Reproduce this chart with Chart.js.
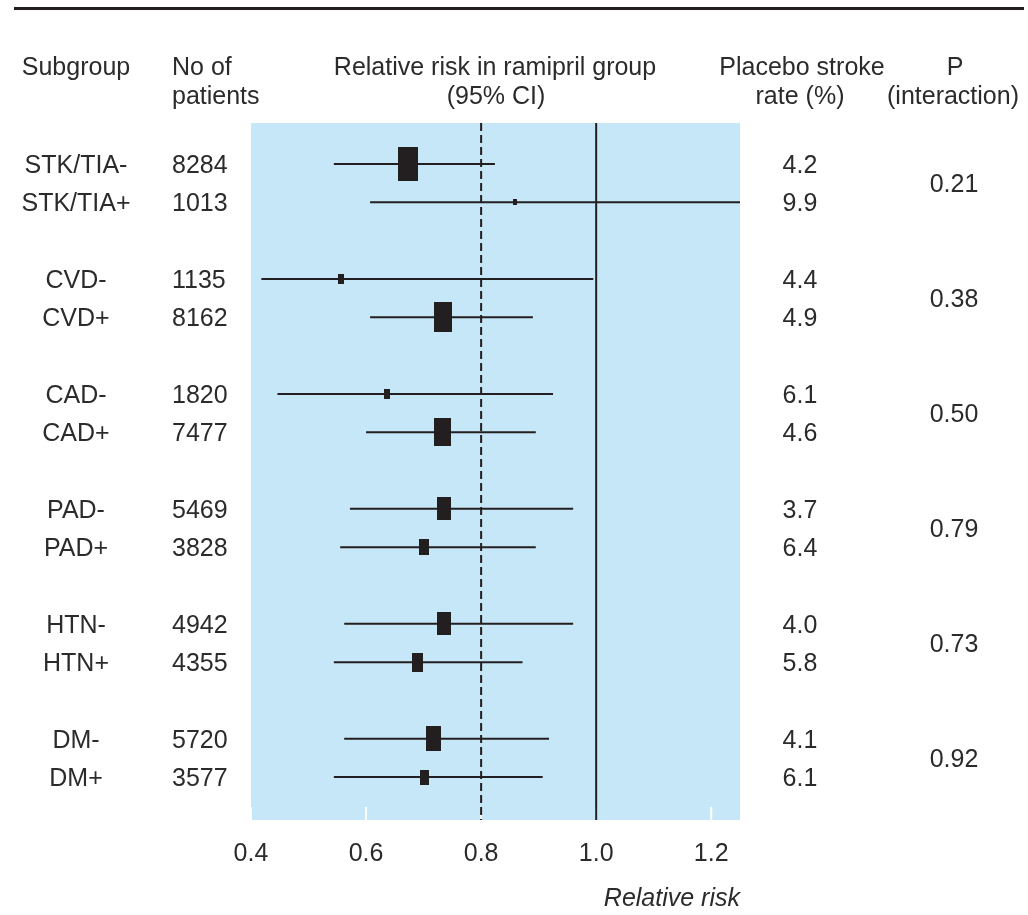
<!DOCTYPE html>
<html>
<head>
<meta charset="utf-8">
<title>Relative risk of stroke in ramipril group by subgroup</title>
<script src="https://cdn.jsdelivr.net/npm/chart.js@4.4.1/dist/chart.umd.min.js"></script>
<style>
  html, body { margin: 0; padding: 0; background: #fff; }
  #wrap { position: relative; width: 1028px; height: 915px; }
</style>
</head>
<body>
<div id="wrap"><canvas id="chart"></canvas></div>
<script>
'use strict';

// data
var subgroups = ['STK/TIA-', 'STK/TIA+', 'CVD-', 'CVD+', 'CAD-', 'CAD+', 'PAD-', 'PAD+', 'HTN-', 'HTN+', 'DM-', 'DM+'];
var patients = [8284, 1013, 1135, 8162, 1820, 7477, 5469, 3828, 4942, 4355, 5720, 3577];
var relRisk = [0.673, 0.859, 0.556, 0.734, 0.637, 0.733, 0.735, 0.700, 0.735, 0.690, 0.718, 0.701];
var ciLow = [0.544, 0.607, 0.418, 0.607, 0.446, 0.600, 0.572, 0.555, 0.562, 0.544, 0.562, 0.544];
var ciHigh = [0.824, 1.38, 0.995, 0.890, 0.925, 0.895, 0.960, 0.895, 0.960, 0.872, 0.918, 0.907];
var weights = [68, 2, 5.6, 53, 6.4, 46, 31, 16, 31, 21, 37.5, 14.4];  // relative box areas
var strokeRate = ['4.2', '9.9', '4.4', '4.9', '6.1', '4.6', '3.7', '6.4', '4.0', '5.8', '4.1', '6.1'];
var pInteraction = ['0.21', '0.38', '0.50', '0.79', '0.73', '0.92'];
var xTicks = [0.4, 0.6, 0.8, 1.0, 1.2];
var overallRisk = 0.8;
var noEffect = 1.0;

var family = '"Liberation Sans", Arial, sans-serif';
var ink = '#231f20';
var textColor = '#2b2b2b';
var panelBlue = '#c6e7f8';
var yMin = -1.07, yMax = 17.12;

// two rows per subgroup pair, one blank row between pairs
function rowOf(i) {
  return Math.floor(i / 2) * 3 + (i % 2);
}

// filled rectangle used as point style, area proportional to weight
function makeBox(weight) {
  var h = Math.sqrt(weight * 10 / 0.6);
  var w = Math.max(4, h * 0.6);
  var c = document.createElement('canvas');
  c.width = Math.round(w);
  c.height = Math.max(5, Math.round(h));
  var g = c.getContext('2d');
  g.fillStyle = ink;
  g.fillRect(0, 0, c.width, c.height);
  return c;
}
var boxes = weights.map(makeBox);

var datasets = [];
subgroups.forEach(function(name, i) {
  datasets.push({
    label: name,
    data: [{ x: ciLow[i], y: rowOf(i) }, { x: ciHigh[i], y: rowOf(i) }],
    showLine: true,
    borderColor: ink,
    borderWidth: 2,
    pointRadius: 0
  });
});
datasets.push({
  label: 'no effect',
  data: [{ x: noEffect, y: yMin }, { x: noEffect, y: yMax }],
  showLine: true, borderColor: ink, borderWidth: 2, pointRadius: 0
});
datasets.push({
  label: 'overall',
  data: [{ x: overallRisk, y: yMin }, { x: overallRisk, y: yMax }],
  showLine: true, borderColor: ink, borderWidth: 2, borderDash: [8, 4], pointRadius: 0
});
datasets.push({
  label: 'relative risk',
  data: relRisk.map(function(v, i) { return { x: v, y: rowOf(i) }; }),
  pointStyle: function(c) { return boxes[c.dataIndex]; },
  pointRadius: 3,
  pointHoverRadius: 3
});

var panelPlugin = {
  id: 'panel',
  beforeDatasetsDraw: function(chart) {
    var a = chart.chartArea, ctx = chart.ctx, x = chart.scales.x;
    ctx.save();
    ctx.fillStyle = panelBlue;
    ctx.fillRect(a.left, a.top, a.right - a.left, a.bottom - a.top);
    // small white tick marks standing on the bottom edge
    ctx.strokeStyle = '#fff';
    ctx.lineWidth = 2;
    xTicks.forEach(function(v) {
      var px = x.getPixelForValue(v);
      ctx.beginPath();
      ctx.moveTo(px, a.bottom);
      ctx.lineTo(px, a.bottom - 13);
      ctx.stroke();
    });
    ctx.restore();
  }
};

var textPlugin = {
  id: 'forestText',
  afterDraw: function(chart) {
    var ctx = chart.ctx, y = chart.scales.y;
    ctx.save();
    ctx.fillStyle = ink;
    ctx.fillRect(14, 7, 1010, 3);

    ctx.fillStyle = textColor;
    ctx.font = '25px ' + family;
    ctx.textBaseline = 'alphabetic';

    // column headers
    ctx.textAlign = 'center';
    ctx.fillText('Subgroup', 76, 75);
    ctx.fillText('Relative risk in ramipril group', 495, 75);
    ctx.fillText('(95% CI)', 496, 104);
    ctx.fillText('Placebo stroke', 802, 75);
    ctx.fillText('rate (%)', 800, 104);
    ctx.fillText('P', 955, 75);
    ctx.fillText('(interaction)', 953, 104);
    ctx.textAlign = 'left';
    ctx.fillText('No of', 172, 75);
    ctx.fillText('patients', 172, 104);

    // row texts
    subgroups.forEach(function(name, i) {
      var py = y.getPixelForValue(rowOf(i)) + 9;
      ctx.textAlign = 'center';
      ctx.fillText(name, 76, py);
      ctx.fillText(strokeRate[i], 800, py);
      ctx.textAlign = 'left';
      ctx.fillText(String(patients[i]), 172, py);
    });
    ctx.textAlign = 'center';
    pInteraction.forEach(function(p, g) {
      var py = y.getPixelForValue(g * 3 + 0.5) + 9;
      ctx.fillText(p, 954, py);
    });
    ctx.restore();
  }
};

new Chart(document.getElementById('chart'), {
  type: 'scatter',
  data: { datasets: datasets },
  plugins: [panelPlugin, textPlugin],
  options: {
    responsive: true,
    maintainAspectRatio: false,
    animation: false,
    events: [],
    layout: { padding: { left: 251, right: 288, top: 123, bottom: 0 } },
    plugins: { legend: { display: false }, tooltip: { enabled: false } },
    scales: {
      x: {
        type: 'linear',
        min: 0.4,
        max: 1.25,
        afterBuildTicks: function(s) {
          s.ticks = xTicks.map(function(v) { return { value: v }; });
        },
        afterFit: function(s) { s.height = 95; },
        grid: { display: false, drawTicks: false },
        border: { display: false },
        ticks: {
          padding: 19,
          color: textColor,
          font: { family: family, size: 25 },
          callback: function(v) { return Number(v).toFixed(1); }
        },
        title: {
          display: true,
          text: 'Relative risk',
          align: 'end',
          color: textColor,
          font: { family: family, size: 25, style: 'italic' },
          padding: { top: 0, bottom: 1 }
        }
      },
      y: { type: 'linear', reverse: true, min: yMin, max: yMax, display: false }
    }
  }
});
</script>
</body>
</html>
